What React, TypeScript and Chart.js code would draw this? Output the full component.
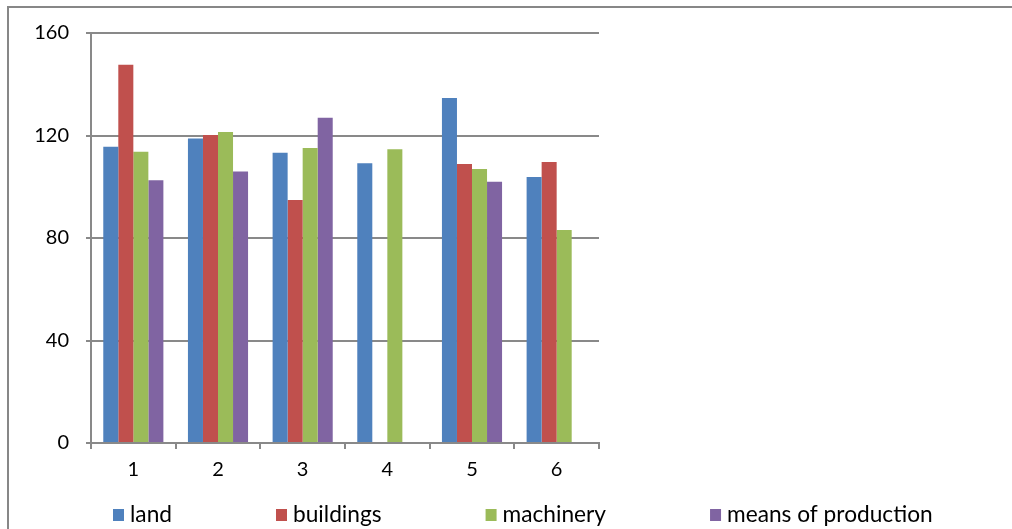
import React, { useEffect, useRef } from "react";
import { Chart, registerables } from "chart.js";

Chart.register(...registerables);

const categories = ["1", "2", "3", "4", "5", "6"];
const seriesNames = ["land", "buildings", "machinery", "means of production"];
const land = [115.6, 118.8, 113.3, 109.2, 134.6, 103.8];
const buildings = [147.6, 120.2, 94.8, null, 108.9, 109.7];
const machinery = [113.7, 121.4, 115.1, 114.6, 106.9, 83.1];
const meansOfProduction = [102.5, 106.0, 126.9, null, 102.0, null];
const colors = ["#4F81BD", "#C0504D", "#9BBB59", "#8064A2"];
const yMin = 0;
const yMax = 160;
const yStep = 40;

const FONT = "Lato, 'Open Sans', sans-serif";
const GRID = "#898989";

const legendPlugin = {
  id: "bottomLegend",
  afterDraw(chart: any) {
    const ctx = chart.ctx;
    ctx.save();
    ctx.font = `22.7px ${FONT}`;
    ctx.textBaseline = "middle";
    ctx.textAlign = "left";
    let x = 113;
    const y = 515;
    chart.data.datasets.forEach((ds: any) => {
      ctx.fillStyle = ds.backgroundColor;
      ctx.fillRect(x, y - 6, 11, 12);
      ctx.fillStyle = "#000";
      ctx.fillText(ds.label, x + 17, y);
      const w = ctx.measureText(ds.label).width;
      x = x + 17 + w + 104;
    });
    ctx.restore();
  },
};

export default function App() {
  const ref = useRef<HTMLCanvasElement>(null);
  useEffect(() => {
    const series = [land, buildings, machinery, meansOfProduction];
    const chart = new Chart(ref.current!, {
      type: "bar",
      data: {
        labels: categories,
        datasets: series.map((d, i) => ({
          label: seriesNames[i],
          data: d,
          backgroundColor: colors[i],
          borderWidth: 0,
          categoryPercentage: 0.71,
          barPercentage: 1,
        })),
      },
      options: {
        responsive: false,
        animation: false,
        layout: { padding: { left: 0, top: 33, right: 413, bottom: 46 } },
        plugins: { legend: { display: false }, tooltip: { enabled: false } },
        scales: {
          x: {
            afterFit: (s: any) => {
              s.height = 40;
            },
            grid: {
              display: true,
              drawOnChartArea: false,
              drawTicks: true,
              tickLength: 6,
              color: GRID,
              lineWidth: 2,
              offset: true,
            },
            border: { display: true, color: GRID, width: 2 },
            ticks: { color: "#000", font: { family: FONT, size: 20 }, padding: 9 },
          },
          y: {
            min: yMin,
            max: yMax,
            afterFit: (s: any) => {
              s.width = 91;
            },
            grid: { color: GRID, lineWidth: 2, tickLength: 5, drawTicks: true },
            border: { display: true, color: GRID, width: 2 },
            ticks: {
              stepSize: yStep,
              color: "#000",
              font: { family: FONT, size: 20 },
              padding: 17,
            },
          },
        },
      },
      plugins: [legendPlugin],
    });
    return () => chart.destroy();
  }, []);
  return (
    <div style={{ position: "absolute", left: 0, top: 0, width: 1012, height: 529, overflow: "hidden", background: "#fff" }}>
      <div
        style={{
          position: "absolute",
          left: 7,
          top: 6,
          width: 1100,
          height: 600,
          borderTop: "2px solid #878787",
          borderLeft: "2px solid #878787",
        }}
      />
      <canvas ref={ref} width={1012} height={529} style={{ position: "absolute", left: 0, top: 0, width: 1012, height: 529 }} />
    </div>
  );
}
